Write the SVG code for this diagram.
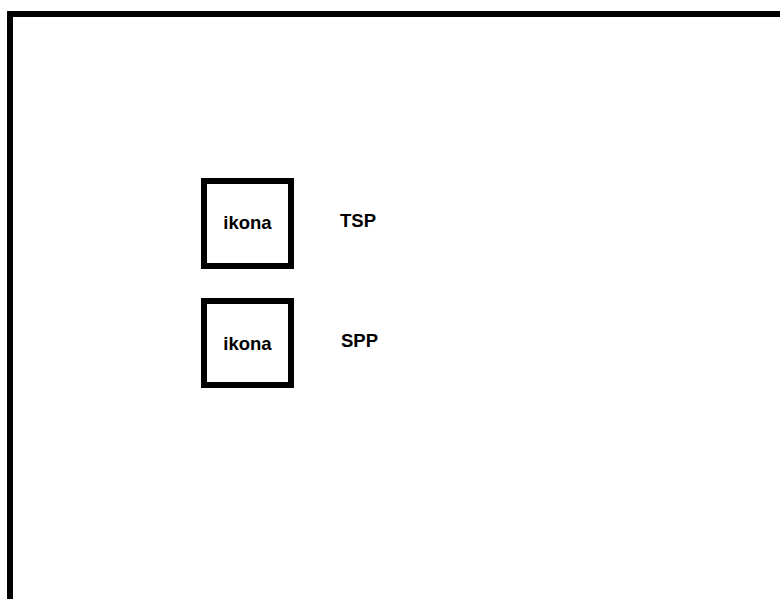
<svg xmlns="http://www.w3.org/2000/svg" width="780" height="599" viewBox="0 0 780 599">
<style>
.frame{fill:none;stroke:#000;stroke-width:6}
.box{fill:#fff;stroke:#000;stroke-width:6}
.t{font-family:"Liberation Sans",Arial,sans-serif;font-weight:bold;font-size:18.5px;fill:#000}
</style>
<rect width="780" height="599" fill="#fff"/>
<path class="frame" d="M10,599 V14 H783"/>
<g id="node-ikona-1">
<rect class="box" x="204" y="181" width="87" height="85"/>
<text class="t" x="247.5" y="229" text-anchor="middle">ikona</text>
</g>
<g id="node-tsp">
<text class="t" x="340" y="227">TSP</text>
</g>
<g id="node-ikona-2">
<rect class="box" x="204" y="301" width="87" height="84"/>
<text class="t" x="247.5" y="350" text-anchor="middle">ikona</text>
</g>
<g id="node-spp">
<text class="t" x="341" y="347">SPP</text>
</g>
<g id="connectors"></g>
</svg>
